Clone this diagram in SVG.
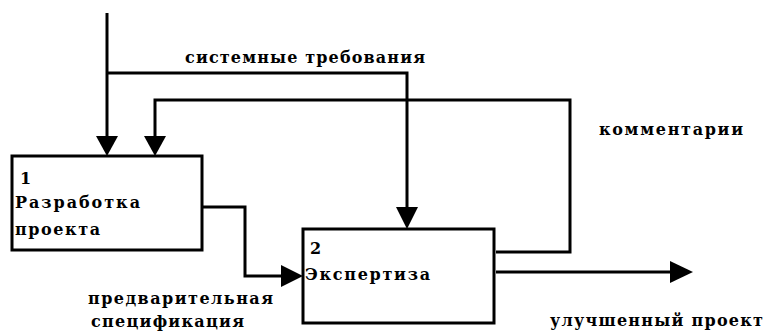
<svg xmlns="http://www.w3.org/2000/svg" width="765" height="331" viewBox="0 0 765 331">
<style>
.box{fill:#fff;stroke:#000;stroke-width:3}
.ln{fill:none;stroke:#000;stroke-width:3;stroke-linejoin:miter}
.ah{fill:#000}
.t{font-family:"DejaVu Serif","Liberation Serif",serif;font-weight:bold;font-size:16px;fill:#000}
</style>
<rect width="765" height="331" fill="#fff"/>
<g id="connectors">
<path class="ln" d="M107,13 V140"/>
<path class="ln" d="M107,73 H407 V212"/>
<path class="ln" d="M202,207 H245 V276 H286"/>
<path class="ln" d="M496,252 H570 V100 H155 V140"/>
<path class="ln" d="M496,272 H675"/>
<polygon class="ah" points="96,136 118,136 107,156"/>
<polygon class="ah" points="144,136 166,136 155,156"/>
<polygon class="ah" points="396,207 418,207 407,229"/>
<polygon class="ah" points="281,265 281,287 303,276"/>
<polygon class="ah" points="670,261 670,283 693,272"/>
</g>
<g id="node1">
<rect class="box" x="12" y="156" width="190" height="94"/>
<text class="t" x="20" y="184">1</text>
<text class="t" x="15" y="208" textLength="125" lengthAdjust="spacing">Разработка</text>
<text class="t" x="15" y="235" textLength="85" lengthAdjust="spacing">проекта</text>
</g>
<g id="node2">
<rect class="box" x="303" y="229" width="191" height="94"/>
<text class="t" x="310" y="254">2</text>
<text class="t" x="305" y="280" textLength="125" lengthAdjust="spacing">Экспертиза</text>
</g>
<g id="labels">
<text class="t" x="185" y="63" textLength="240" lengthAdjust="spacing">системные требования</text>
<text class="t" x="599" y="135" textLength="144" lengthAdjust="spacing">комментарии</text>
<text class="t" x="550" y="326" textLength="213" lengthAdjust="spacing">улучшенный проект</text>
<text class="t" x="88" y="304" textLength="185" lengthAdjust="spacing">предварительная</text>
<text class="t" x="91" y="327" textLength="153" lengthAdjust="spacing">спецификация</text>
</g>
</svg>
